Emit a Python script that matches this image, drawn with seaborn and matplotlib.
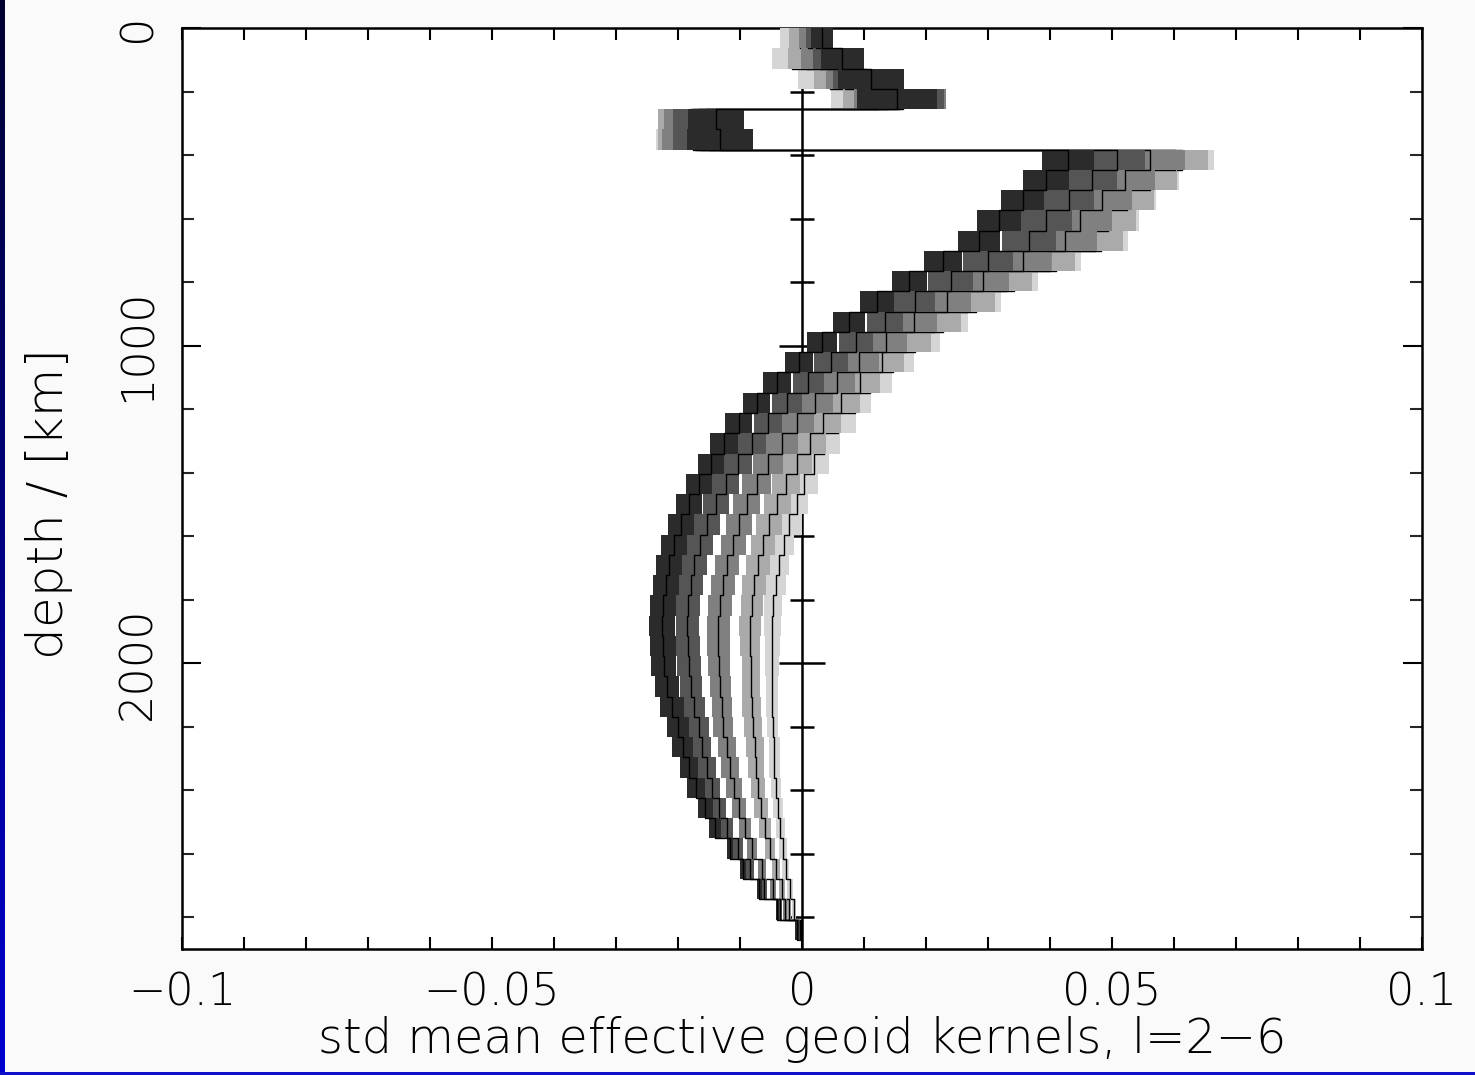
import numpy as np
import matplotlib
matplotlib.use("Agg")
import matplotlib.pyplot as plt
import seaborn as sns

# layers of the kernel model (km)
layer_km = 63.8
n_layers = 45

# degrees, darkest shade first
degrees = [2, 3, 4, 5, 6]
shades = ["#2b2b2b", "#555555", "#808080", "#aaaaaa", "#d5d5d5"]

# mean kernel per layer, top to bottom (units of 1e-3)
mean_l2 = [3.2, 6.5, 11.1, 15.3, -13.9, -13.2, 42.9, 39.4, 35.6, 31.8,
           28.5, 22.7, 17.3, 12.1, 7.6, 3.2, -0.5, -4.0, -7.3, -10.2,
           -12.6, -14.7, -16.6, -18.2, -19.5, -20.6, -21.5, -21.9, -22.4, -22.6,
           -22.4, -22.3, -21.8, -21.0, -20.0, -19.2, -18.2, -17.1, -15.6, -14.0,
           -11.6, -9.5, -6.9, -4.0, -0.8]
mean_l3 = [2.3, 4.2, 10.3, 16.3, -15.5, -15.0, 50.8, 46.8, 43.1, 39.4,
           36.6, 30.0, 24.0, 18.2, 13.4, 8.7, 4.7, 1.0, -2.4, -5.5,
           -8.1, -10.3, -12.3, -13.9, -15.3, -16.5, -17.4, -17.9, -18.4, -18.5,
           -18.4, -18.2, -17.9, -17.4, -16.6, -16.1, -15.3, -14.5, -13.4, -12.1,
           -10.3, -8.4, -6.1, -3.5, -0.6]
mean_l4 = [1.0, 2.9, 8.9, 15.8, -16.8, -16.5, 56.1, 52.1, 48.4, 44.8,
           42.4, 35.6, 29.2, 23.4, 18.1, 13.5, 9.2, 5.6, 2.1, -0.8,
           -3.2, -5.5, -7.3, -8.9, -10.2, -11.1, -12.1, -12.7, -13.2, -13.5,
           -13.5, -13.4, -13.2, -12.9, -12.7, -12.1, -11.6, -11.0, -10.2, -9.2,
           -8.1, -6.5, -4.7, -2.7, -0.5]
mean_l5 = [-0.3, 0.6, 6.9, 13.9, -17.6, -17.1, 60.2, 56.1, 52.4, 49.4,
           47.3, 40.0, 32.9, 26.8, 21.3, 16.6, 12.9, 9.4, 6.3, 3.4,
           1.3, -0.8, -2.6, -4.0, -5.3, -6.3, -7.1, -7.7, -8.1, -8.4,
           -8.4, -8.2, -8.2, -8.1, -7.9, -7.6, -7.4, -7.1, -6.6, -6.0,
           -5.2, -4.2, -3.2, -2.1, -0.3]
mean_l6 = [-1.9, -1.6, 4.5, 12.3, -18.1, -17.6, 61.3, 56.6, 52.9, 50.0,
           48.2, 41.0, 34.2, 28.1, 22.7, 18.2, 14.7, 11.0, 8.5, 5.8,
           3.5, 1.9, 0.3, -0.8, -2.1, -2.9, -3.7, -4.2, -4.7, -4.8,
           -4.8, -4.8, -4.8, -4.8, -4.7, -4.5, -4.5, -4.2, -3.9, -3.5,
           -3.1, -2.6, -1.9, -1.3, -0.2]

# std of the kernel per layer (units of 1e-3)
std_l2 = [1.8, 3.5, 5.3, 6.5, 4.5, 5.3, 4.2, 3.7, 3.5, 3.5,
          3.4, 3.1, 2.8, 2.7, 2.6, 2.4, 2.3, 2.3, 2.2, 2.2,
          2.2, 2.1, 2.1, 2.1, 2.1, 2.1, 2.1, 2.1, 2.1, 2.1,
          2.1, 2.0, 1.9, 1.9, 1.8, 1.7, 1.5, 1.4, 1.2, 1.0,
          0.5, 0.5, 0.4, 0.25, 0.25]
std_l3 = [1.6, 2.4, 5.3, 6.6, 5.3, 5.8, 4.5, 4.0, 4.0, 4.2,
          4.3, 4.0, 3.6, 3.3, 2.9, 2.7, 2.7, 2.5, 2.4, 2.3,
          2.3, 2.2, 2.2, 2.1, 2.1, 2.1, 2.0, 1.9, 2.0, 1.9,
          1.9, 1.9, 1.7, 1.7, 1.6, 1.5, 1.5, 1.3, 1.1, 1.0,
          0.8, 0.65, 0.5, 0.3, 0.25]
std_l4 = [1.5, 3.1, 5.0, 7.4, 5.5, 6.1, 5.6, 4.8, 4.8, 5.2,
          5.2, 4.5, 4.2, 3.9, 3.7, 3.4, 3.2, 2.9, 2.9, 2.7,
          2.6, 2.4, 2.3, 2.2, 2.1, 2.0, 2.0, 1.9, 1.9, 1.9,
          1.9, 1.8, 1.7, 1.6, 1.6, 1.5, 1.4, 1.3, 1.1, 1.0,
          0.8, 0.65, 0.5, 0.3, 0.15]
std_l5 = [1.6, 2.9, 5.0, 7.3, 5.6, 6.1, 5.3, 4.4, 4.4, 4.4,
          4.4, 4.0, 4.2, 4.4, 4.4, 4.2, 3.5, 3.2, 3.1, 2.9,
          2.6, 2.4, 2.3, 2.2, 2.1, 1.9, 2.0, 1.9, 1.8, 1.8,
          1.6, 1.5, 1.5, 1.5, 1.4, 1.4, 1.3, 1.2, 1.1, 1.0,
          0.8, 0.65, 0.5, 0.4, 0.15]
std_l6 = [1.6, 3.2, 5.2, 7.7, 5.0, 6.0, 5.2, 4.2, 4.2, 4.4,
          4.4, 4.0, 3.9, 4.0, 4.0, 4.0, 3.4, 3.5, 2.7, 2.9,
          2.7, 2.4, 2.3, 1.8, 2.1, 1.6, 1.6, 1.6, 1.5, 1.4,
          1.2, 1.1, 1.0, 1.0, 0.9, 0.9, 0.9, 0.8, 0.8, 0.7,
          0.65, 0.55, 0.5, 0.3, 0.15]

means = [mean_l2, mean_l3, mean_l4, mean_l5, mean_l6]
stds = [std_l2, std_l3, std_l4, std_l5, std_l6]

x_ticks = [-0.1, -0.05, 0, 0.05, 0.1]
x_labels = ["\u22120.1", "\u22120.05", "0", "0.05", "0.1"]
y_ticks = [0, 1000, 2000]
y_labels = ["0", "1000", "2000"]

sns.set_style("white")
plt.rcParams["font.family"] = ["DejaVu Sans"]
plt.rcParams["font.weight"] = "light"
plt.rcParams["axes.labelweight"] = "light"

fig = plt.figure(figsize=(14.75, 10.75), dpi=100, facecolor="#fafafa")
ax = fig.add_axes([182 / 1475, 1 - 949 / 1075, 1240 / 1475, 921 / 1075])
ax.set_facecolor("white")

tops = np.arange(n_layers) * layer_km
mids = tops + layer_km / 2
step_y = np.column_stack([tops, tops + layer_km]).ravel()

# zero line with its own small ticks, under the kernels
ax.axvline(0, color="black", lw=1.8, zorder=1.5)
zero_minor = [200, 400, 600, 800, 1200, 1400, 1600, 1800, 2200, 2400, 2600, 2800]
ax.hlines(zero_minor, -0.0019, 0.0019, color="black", lw=1.8, zorder=1.5)
ax.hlines([1000, 2000], -0.0037, 0.0037, color="black", lw=1.8, zorder=1.5)

# lightest degree first, darker ones on top
for i in reversed(range(len(degrees))):
    m = np.array(means[i]) * 1e-3
    s = np.array(stds[i]) * 1e-3
    z = 2 + 2 * (len(degrees) - i)
    ax.barh(mids, 2 * s, left=m - s, height=layer_km, color=shades[i],
            linewidth=0, zorder=z)
    sns.lineplot(x=np.repeat(m, 2), y=step_y, sort=False, estimator=None,
                 color="black", lw=1.0, ax=ax, zorder=z + 1)

ax.set_xlim(-0.1, 0.1)
ax.set_ylim(2900, 0)

ax.set_xticks(x_ticks)
ax.set_xticklabels(x_labels, fontsize=32)
ax.set_xticks(np.arange(-0.1, 0.1001, 0.01), minor=True)
ax.set_yticks(y_ticks)
ax.set_yticklabels(y_labels, fontsize=32, rotation=90, va="center")
ax.set_yticks(np.arange(0, 2900, 200), minor=True)

ax.tick_params(axis="x", which="both", direction="in", top=True, bottom=True,
               length=8.6, width=1.5, pad=16, colors="black")
ax.tick_params(axis="y", which="major", direction="in", left=True, right=True,
               length=13.5, width=1.5, pad=16, colors="black")
ax.tick_params(axis="y", which="minor", direction="in", left=True, right=True,
               length=8.6, width=1.5)
for sp in ax.spines.values():
    sp.set_color("black")
    sp.set_linewidth(1.8)

ax.set_xlabel("std mean effective geoid kernels, l=2\u22126", fontsize=34.5,
              fontweight="light", color="black", labelpad=1)
ax.set_ylabel("depth / [km]", fontsize=36, fontweight="light", color="black")
ax.yaxis.set_label_coords(-0.088, 0.484)

# blue frame pieces of the screen grab
strip = fig.add_axes([0, 0, 5 / 1475, 1])
strip.imshow(np.linspace(0, 1, 256).reshape(-1, 1), aspect="auto",
             cmap=matplotlib.colors.LinearSegmentedColormap.from_list("b", ["#000030", "#0000d0"]))
strip.axis("off")
fig.add_artist(plt.Rectangle((0, 0), 1, 3 / 1075, transform=fig.transFigure,
                             color="#1010c8", lw=0))

fig.savefig("out.png", dpi=100, facecolor=fig.get_facecolor())
